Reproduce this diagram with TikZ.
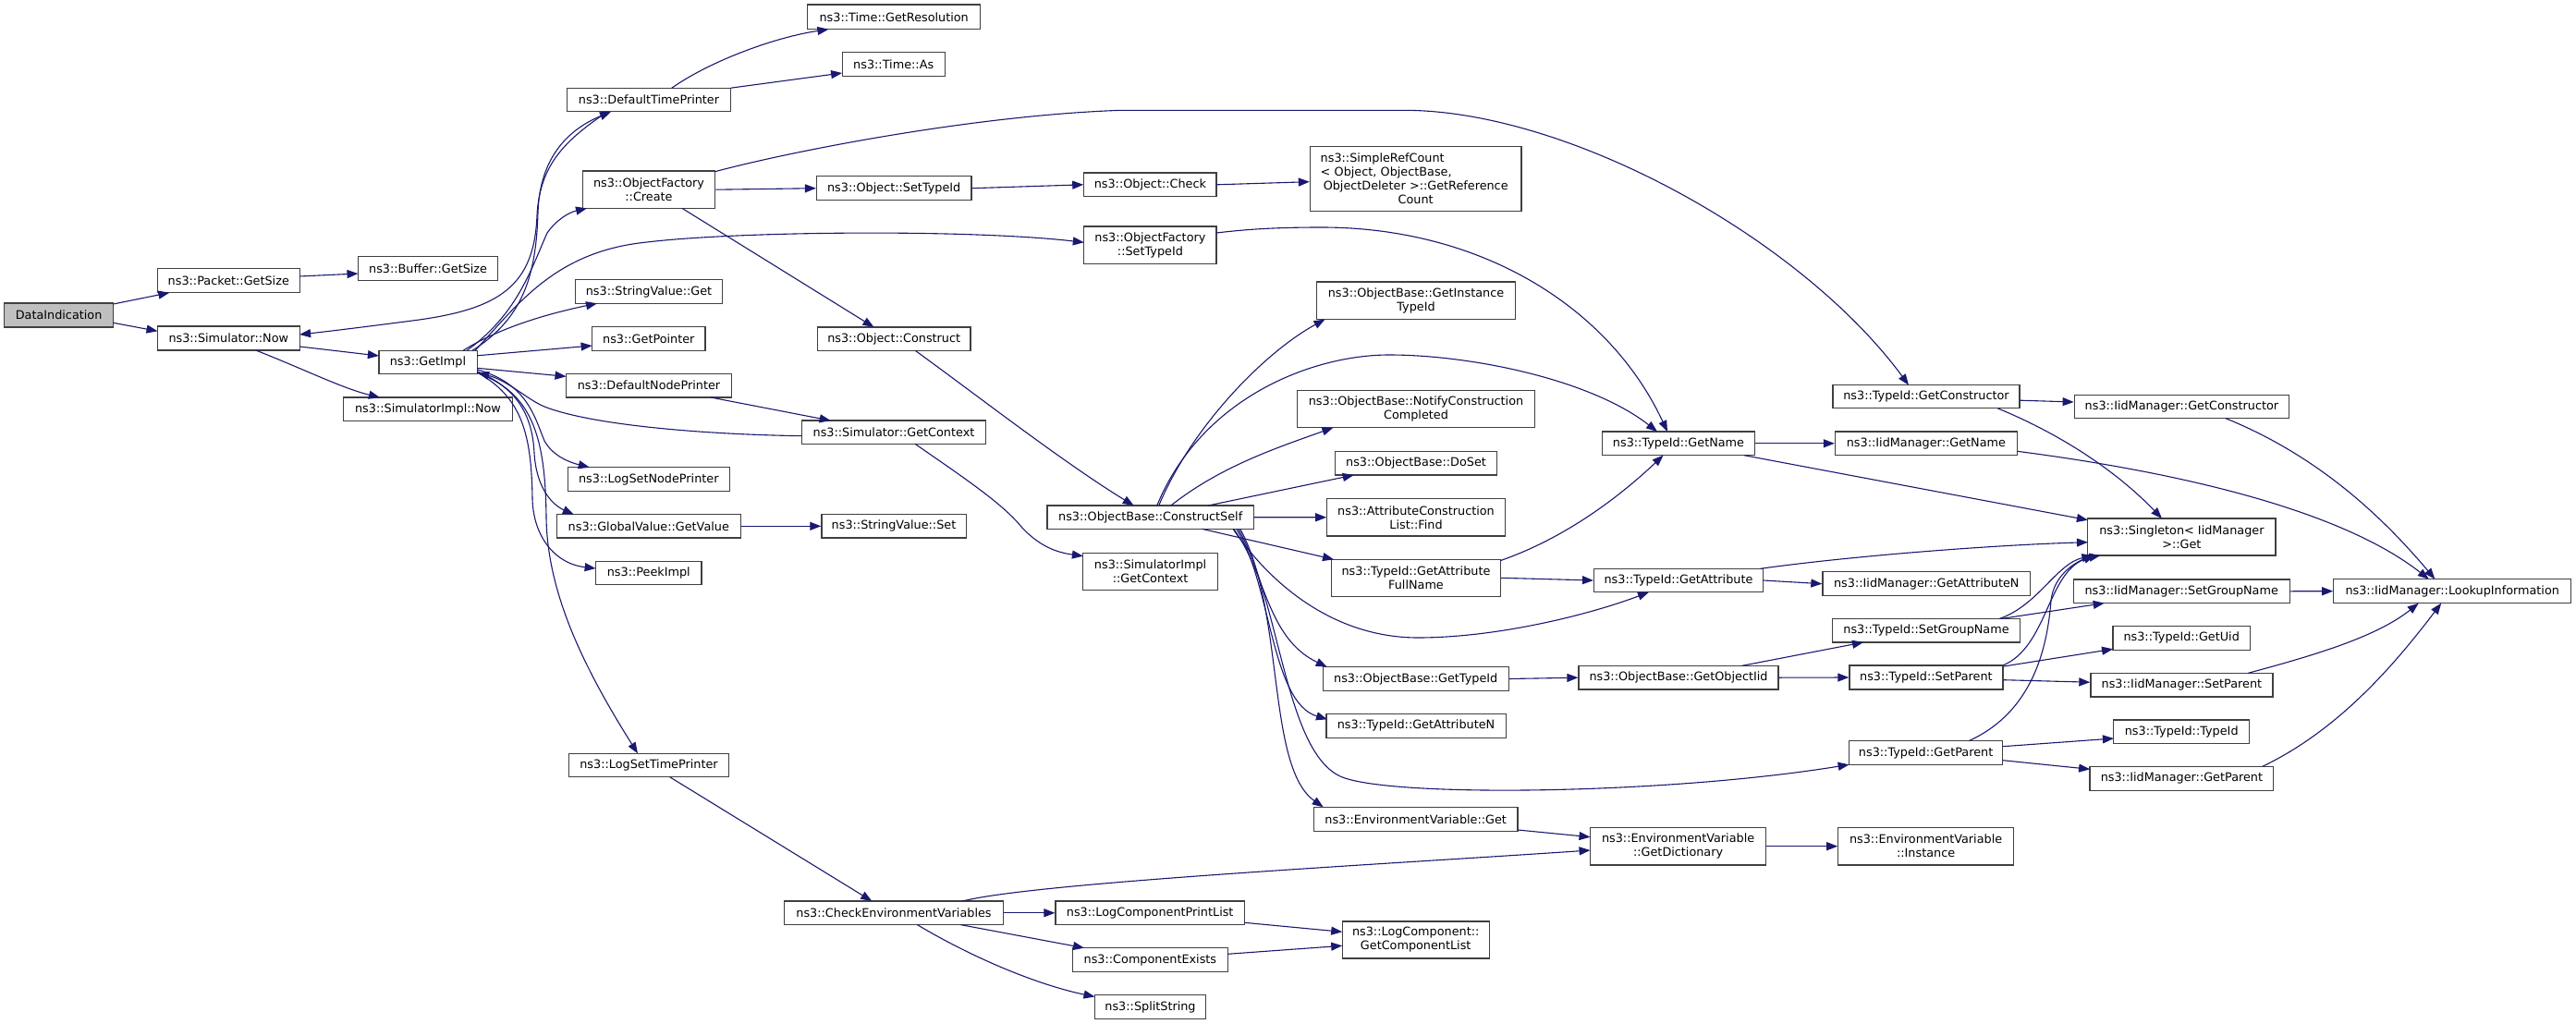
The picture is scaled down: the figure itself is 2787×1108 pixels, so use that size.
\documentclass[tikz,border=0pt]{standalone}
\usepackage{fontspec}
\setmainfont{DejaVu Sans}
\usetikzlibrary{arrows.meta,calc}
\definecolor{edgec}{HTML}{191970}
\definecolor{boxc}{HTML}{404040}
\definecolor{grayfill}{HTML}{BFBFBF}
\newcommand\fnode[6]{\node[fn,minimum width=#4pt,minimum height=#5pt] (#1) at (#2,#3) {#6};}
\begin{document}
\begin{tikzpicture}[x=1pt,y=-1pt,
  fn/.style={draw=boxc,fill=white,line width=1.2pt,inner sep=0pt,align=center,font=\fontsize{12.8}{15}\selectfont},
  cg/.style={draw=edgec,line width=1.1pt,-{Triangle[length=12pt,width=9pt]}}]
\useasboundingbox (0,0) rectangle (2787,1108);
% nodes
\node[fn,fill=grayfill,minimum width=118.3pt,minimum height=26pt] (di) at (63.6,341) {DataIndication};
\fnode{pgs}{247.3}{303.7}{153.6}{26}{ns3::Packet::GetSize}
\fnode{bgs}{463.1}{290.3}{151.3}{26}{ns3::Buffer::GetSize}
\fnode{snow}{247.3}{366}{153.6}{26}{ns3::Simulator::Now}
\fnode{gi}{463}{391.8}{106.2}{25}{ns3::GetImpl}
\fnode{sin}{463}{442.7}{183.1}{25.3}{ns3::SimulatorImpl::Now}
\fnode{dtp}{702}{108}{177.6}{25.7}{ns3::DefaultTimePrinter}
\fnode{ofc}{702}{205.2}{143.3}{40.3}{ns3::ObjectFactory\\::Create}
\fnode{svg}{702}{315.5}{159.4}{25.6}{ns3::StringValue::Get}
\fnode{gp}{701.8}{366.3}{122.4}{26}{ns3::GetPointer}
\fnode{dnp}{702}{417.2}{179}{25.7}{ns3::DefaultNodePrinter}
\fnode{lsnp}{701.8}{518.5}{175}{25.6}{ns3::LogSetNodePrinter}
\fnode{ggv}{701.8}{569.3}{199.1}{25.3}{ns3::GlobalValue::GetValue}
\fnode{pki}{701.8}{620}{114.4}{25.4}{ns3::PeekImpl}
\fnode{lstp}{702}{828}{173.6}{25.4}{ns3::LogSetTimePrinter}
\fnode{gtr}{967.2}{18.3}{187}{26.7}{ns3::Time::GetResolution}
\fnode{tas}{966.7}{69.5}{111.2}{25.7}{ns3::Time::As}
\fnode{ost}{967.2}{203.7}{167.4}{26}{ns3::Object::SetTypeId}
\fnode{oco}{967.2}{366.7}{165.6}{25.3}{ns3::Object::Construct}
\fnode{sgc}{967}{467.7}{199.1}{25.3}{ns3::Simulator::GetContext}
\fnode{sst}{967}{569.3}{156.2}{25.3}{ns3::StringValue::Set}
\fnode{cev}{967}{987.8}{236.6}{25.7}{ns3::CheckEnvironmentVariables}
\fnode{och}{1244.4}{199.8}{143.2}{25.7}{ns3::Object::Check}
\fnode{oft}{1244.4}{265.3}{143.2}{40.7}{ns3::ObjectFactory\\::SetTypeId}
\fnode{ocs}{1244.7}{559.7}{223.3}{25.3}{ns3::ObjectBase::ConstructSelf}
\fnode{sigc}{1244.6}{618.7}{145.5}{40}{ns3::SimulatorImpl\\::GetContext}
\fnode{lcpl}{1244.2}{987.8}{204.4}{25.7}{ns3::LogComponentPrintList}
\fnode{cex}{1244.4}{1038.5}{167.4}{25.6}{ns3::ComponentExists}
\fnode{sps}{1244.5}{1089.5}{120.1}{25.6}{ns3::SplitString}
\node[fn,minimum width=228.6pt,minimum height=70pt,text width=206pt] (src) at (1531.7,193.3)
  {\makebox[\linewidth][l]{ns3::SimpleRefCount}\\\makebox[\linewidth][l]{< Object, ObjectBase,}\\ObjectDeleter >::GetReference\\Count};
\fnode{git}{1532}{325.3}{214.7}{40.7}{ns3::ObjectBase::GetInstance\\TypeId}
\fnode{ncc}{1532}{442.5}{256.7}{40.4}{ns3::ObjectBase::NotifyConstruction\\Completed}
\fnode{dos}{1532}{501.2}{174.6}{25.7}{ns3::ObjectBase::DoSet}
\fnode{acl}{1532}{559.8}{192.4}{40.3}{ns3::AttributeConstruction\\List::Find}
\fnode{gafn}{1532}{625.3}{182.6}{40}{ns3::TypeId::GetAttribute\\FullName}
\fnode{ogt}{1531.7}{734.5}{200.8}{25.6}{ns3::ObjectBase::GetTypeId}
\fnode{tgan}{1532}{785.3}{194.2}{26}{ns3::TypeId::GetAttributeN}
\fnode{evg}{1531.7}{886.3}{220.6}{26}{ns3::EnvironmentVariable::Get}
\fnode{gcl}{1531.7}{1017}{159}{40}{ns3::LogComponent::\\GetComponentList}
\fnode{tgn}{1816}{479.8}{165.7}{25.7}{ns3::TypeId::GetName}
\fnode{tga}{1816}{628}{183}{25.4}{ns3::TypeId::GetAttribute}
\fnode{ogoi}{1816}{733.2}{216}{25.7}{ns3::ObjectBase::GetObjectIid}
\fnode{gdi}{1815.6}{915.7}{190.2}{40.7}{ns3::EnvironmentVariable\\::GetDictionary}
\fnode{tgc}{2084}{429.2}{202}{25}{ns3::TypeId::GetConstructor}
\fnode{ign}{2083.9}{479.8}{197}{25.7}{ns3::IidManager::GetName}
\fnode{igan}{2084.3}{631.7}{224.8}{26}{ns3::IidManager::GetAttributeN}
\fnode{tsgn}{2084}{682.2}{203}{25.7}{ns3::TypeId::SetGroupName}
\fnode{tsp}{2083.9}{733}{166}{26}{ns3::TypeId::SetParent}
\fnode{tgp}{2083.6}{814.5}{166.5}{25.6}{ns3::TypeId::GetParent}
\fnode{evi}{2083.6}{915.7}{189.6}{40.7}{ns3::EnvironmentVariable\\::Instance}
\fnode{igc}{2360.4}{440}{232.4}{25.3}{ns3::IidManager::GetConstructor}
\fnode{sgt}{2360.4}{581}{203.1}{40}{ns3::Singleton< IidManager\\>::Get}
\fnode{isgn}{2360.2}{639.8}{233.8}{25.7}{ns3::IidManager::SetGroupName}
\fnode{tgu}{2360.2}{690.3}{148.4}{26}{ns3::TypeId::GetUid}
\fnode{isp}{2360.4}{741.2}{197}{25.7}{ns3::IidManager::SetParent}
\fnode{tti}{2360.2}{791.8}{146.7}{25.7}{ns3::TypeId::TypeId}
\fnode{igp}{2360.4}{842.3}{198.7}{26}{ns3::IidManager::GetParent}
\fnode{lki}{2653.2}{639.7}{256.9}{26}{ns3::IidManager::LookupInformation}
% edges
\draw[cg] ($(di)+(59,-12)$) -- ($(pgs)+(-64,13)$);
\draw[cg] ($(di)+(59,8.3)$) -- ($(snow)+(-76.8,-7.7)$);
\draw[cg] ($(pgs)+(76.8,-4.7)$) -- ($(bgs)+(-75.6,5.7)$);
\draw[cg] ($(snow)+(76.8,9)$) -- ($(gi)+(-53.1,-6.8)$);
\draw[cg] ($(snow)+(29.5,13)$) .. controls (330,400) and (370,420) .. ($(sin)+(-52,-12.6)$);
\draw[cg] ($(gi)+(48,-12.5)$) .. controls (565,345) and (580,300) .. (582,230) .. controls (584,170) and (615,140) .. ($(dtp)+(-41,13)$);
\draw[cg] ($(dtp)+(-45,12.8)$) .. controls (615,150) and (584,175) .. (581,233) .. controls (578,310) and (540,335) .. (446,347) .. controls (400,353) and (360,358) .. ($(snow)+(76.8,-4)$);
\draw[cg] ($(gi)+(42,-12.5)$) .. controls (560,340) and (575,290) .. (592,252) .. controls (602,238) and (615,230) .. ($(ofc)+(-67,20.2)$);
\draw[cg] ($(gi)+(51,-12.5)$) .. controls (560,330) and (600,272) .. (700,262) .. controls (800,250) and (1050,248) .. ($(oft)+(-71.6,-3)$);
\draw[cg] ($(gi)+(38,-12.5)$) .. controls (540,355) and (590,340) .. ($(svg)+(-56,12.8)$);
\draw[cg] ($(gi)+(53.1,-7)$) -- ($(gp)+(-61.2,7.7)$);
\draw[cg] ($(gi)+(53.1,6.5)$) -- ($(dnp)+(-89.5,-9.9)$);
\draw[cg] ($(gi)+(53.1,8)$) .. controls (570,415) and (578,450) .. (589,477) .. controls (598,493) and (615,500) .. ($(lsnp)+(-64,-12.8)$);
\draw[cg] ($(gi)+(53.1,10)$) .. controls (560,420) and (576,450) .. (578,490) .. controls (580,525) and (595,545) .. ($(ggv)+(-81,-12.6)$);
\draw[cg] ($(gi)+(53.1,11)$) .. controls (565,430) and (575,470) .. (576,540) .. controls (577,580) and (600,610) .. ($(pki)+(-57.2,-5)$);
\draw[cg] ($(gi)+(53.1,11.5)$) .. controls (575,425) and (590,470) .. (591,560) .. controls (592,640) and (630,720) .. ($(lstp)+(-12,-12.7)$);
\draw[cg] ($(sgc)+(-99.6,4)$) .. controls (760,470) and (640,460) .. (589,440) .. controls (570,432) and (550,412) .. ($(gi)+(54,11.5)$);
\draw[cg] ($(dtp)+(24.8,-12.8)$) .. controls (770,65) and (840,40) .. ($(gtr)+(-70.8,13.4)$);
\draw[cg] ($(dtp)+(88.6,-12.8)$) -- ($(tas)+(-55.6,9.5)$);
\draw[cg] ($(dnp)+(67,12.8)$) -- ($(sgc)+(-68.3,-12.6)$);
\draw[cg] ($(sgc)+(23,12.6)$) .. controls (1040,515) and (1085,545) .. (1105,570) .. controls (1125,592) and (1145,598) .. ($(sigc)+(-72.7,-17)$);
\draw[cg] (ggv.east) -- (sst.west);
\draw[cg] (ofc.east) -- (ost.west);
\draw[cg] ($(ofc)+(36,20.2)$) -- ($(oco)+(-21.7,-12.7)$);
\draw[cg] ($(ofc)+(71.7,-19.5)$) .. controls (850,165) and (1050,125) .. (1213,119.3) -- (1520,119.3) .. controls (1700,120) and (1950,260) .. ($(tgc)+(-19,-12.5)$);
\draw[cg] (ost.east) -- (och.west);
\draw[cg] (och.east) -- ($(src.west)+(0,3.4)$);
\draw[cg] ($(oft)+(71.6,-13.3)$) .. controls (1350,248) and (1380,246) .. (1430,246) .. controls (1600,246) and (1740,330) .. ($(tgn)+(-12,-12.8)$);
\draw[cg] ($(oco)+(23,12.6)$) .. controls (1060,430) and (1150,500) .. ($(ocs)+(-18,-12.6)$);
\draw[cg] ($(ocs)+(9,-12.6)$) .. controls (1290,460) and (1370,380) .. ($(git)+(-98.5,20.3)$);
\draw[cg] ($(ocs)+(7,-12.6)$) .. controls (1300,430) and (1420,384) .. (1503,384) .. controls (1590,384) and (1720,410) .. ($(tgn)+(-23,-12.8)$);
\draw[cg] ($(ocs)+(22,-12.6)$) .. controls (1320,505) and (1380,485) .. ($(ncc)+(-89.6,20.2)$);
\draw[cg] ($(ocs)+(62,-12.6)$) -- ($(dos)+(-67.3,12.8)$);
\draw[cg] (ocs.east) -- (acl.west);
\draw[cg] ($(ocs)+(55.7,12.6)$) -- ($(gafn)+(-89,-20)$);
\draw[cg] ($(ocs)+(89.3,12.6)$) .. controls (1380,640) and (1450,690) .. (1534,690) .. controls (1620,690) and (1720,665) .. ($(tga)+(-32,12.7)$);
\draw[cg] ($(ocs)+(90,12.6)$) .. controls (1370,620) and (1370,690) .. ($(ogt)+(-96,-12.8)$);
\draw[cg] ($(ocs)+(93,12.6)$) .. controls (1375,630) and (1375,760) .. ($(tgan)+(-96,-7)$);
\draw[cg] ($(ocs)+(95,12.6)$) .. controls (1385,650) and (1390,812) .. (1450,840) .. controls (1500,863) and (1800,860) .. ($(tgp)+(-83,12.8)$);
\draw[cg] ($(ocs)+(97,12.6)$) .. controls (1390,660) and (1370,830) .. ($(evg)+(-100,-13)$);
\draw[cg] ($(gafn)+(91,-18.6)$) .. controls (1700,580) and (1760,530) .. ($(tgn)+(-16.5,12.8)$);
\draw[cg] (gafn.east) -- (tga.west);
\draw[cg] (tgn.east) -- (ign.west);
\draw[cg] ($(tgn)+(70.6,12.8)$) -- ($(sgt)+(-101.5,-18.3)$);
\draw[cg] ($(tga)+(88.5,-12.7)$) .. controls (2000,602) and (2150,590) .. ($(sgt)+(-101.5,5.7)$);
\draw[cg] (tga.east) -- (igan.west);
\draw[cg] (ogt.east) -- (ogoi.west);
\draw[cg] ($(ogoi)+(68.4,-12.8)$) -- ($(tsgn)+(-68,12.8)$);
\draw[cg] (ogoi.east) -- (tsp.west);
\draw[cg] ($(tgc.east)+(0,4)$) -- ($(igc.west)+(0,-5)$);
\draw[cg] ($(tgc)+(77,12.5)$) .. controls (2230,470) and (2290,510) .. ($(sgt)+(-21.4,-20)$);
\draw[cg] ($(igc)+(47.4,12.6)$) .. controls (2500,490) and (2570,550) .. ($(lki)+(-18.8,-13)$);
\draw[cg] ($(ign)+(98.5,8.5)$) .. controls (2350,510) and (2530,550) .. ($(lki)+(-25.4,-13)$);
\draw[cg] ($(tsgn)+(79.3,-12.8)$) .. controls (2205,655) and (2225,610) .. ($(sgt)+(-96,20)$);
\draw[cg] ($(tsgn)+(81.5,-12.8)$) -- ($(isgn)+(-83.5,12.8)$);
\draw[cg] (isgn.east) -- (lki.west);
\draw[cg] ($(tsp)+(83,-13)$) .. controls (2215,700) and (2215,620) .. ($(sgt)+(-94,20)$);
\draw[cg] ($(tsp)+(84,-12)$) -- ($(tgu)+(-74.2,12)$);
\draw[cg] ($(tsp.east)+(0,2.7)$) -- ($(isp.west)+(0,-3)$);
\draw[cg] ($(isp)+(71.6,-12.8)$) .. controls (2500,710) and (2570,690) .. ($(lki)+(-36.5,13)$);
\draw[cg] ($(tgp)+(46.4,-12.8)$) .. controls (2200,770) and (2215,700) .. (2219,650) .. controls (2222,620) and (2250,605) .. ($(sgt)+(-88,20)$);
\draw[cg] ($(tgp)+(83.3,-6.8)$) -- ($(tti)+(-73.3,7.2)$);
\draw[cg] ($(tgp)+(83.3,8.2)$) -- ($(igp)+(-99.3,-10)$);
\draw[cg] ($(igp)+(87.4,-13)$) .. controls (2530,790) and (2590,720) .. ($(lki)+(-12,13)$);
\draw[cg] ($(lstp)+(22.6,12.7)$) -- ($(cev)+(-23.7,-12.8)$);
\draw[cg] ($(cev)+(74.5,-12.8)$) .. controls (1120,955) and (1500,935) .. ($(gdi)+(-95.1,4.3)$);
\draw[cg] (cev.east) -- (lcpl.west);
\draw[cg] ($(cev)+(72.3,12.8)$) -- ($(cex)+(-71.4,-12.8)$);
\draw[cg] ($(cev)+(25.4,12.8)$) .. controls (1050,1035) and (1120,1065) .. ($(sps)+(-60,-11)$);
\draw[cg] ($(lcpl)+(102.2,10.5)$) -- ($(gcl)+(-79.5,-8.7)$);
\draw[cg] ($(cex)+(83.7,-6.2)$) -- ($(gcl)+(-79.5,6.3)$);
\draw[cg] ($(evg)+(110.3,11.7)$) -- ($(gdi)+(-95.1,-10)$);
\draw[cg] (gdi.east) -- (evi.west);
\end{tikzpicture}
\end{document}
